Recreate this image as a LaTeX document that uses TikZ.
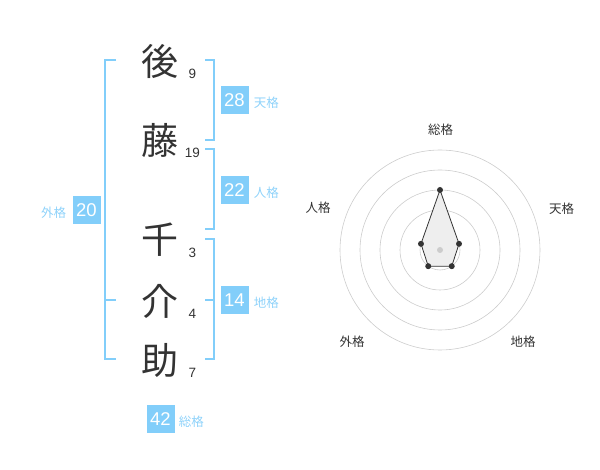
\documentclass[tikz,border=0pt]{standalone}
\usepackage{fontspec}
\setmainfont{Liberation Sans}
\newfontfamily\cjk{Noto Sans CJK JP}
\usetikzlibrary{positioning}
\definecolor{kakublue}{HTML}{82CEFA}
\definecolor{kakutext}{HTML}{8ED2FA}
\definecolor{inkgray}{HTML}{333333}
\definecolor{ringgray}{HTML}{CCCCCC}
\definecolor{polyfill}{HTML}{EEEEEE}
\begin{document}
\begin{tikzpicture}[x = 1pt, y = -1pt,
		kanji/.style = {text = inkgray, font = \cjk\fontsize{37}{37}\selectfont},
		kakusu/.style = {text = inkgray, font = \fontsize{13.5}{13.5}\selectfont},
		kakubox/.style = {fill = kakublue, text = white, minimum size = 28pt, inner sep = 0pt, font = \fontsize{18.5}{18.5}\selectfont},
		kakuname/.style = {text = kakutext, inner sep = 0pt, font = \cjk\fontsize{12.5}{12.5}\selectfont},
		bracket/.style = {draw = kakublue, line width = 2pt},
		ring/.style = {draw = ringgray, line width = 0.6pt},
		radarname/.style = {text = inkgray, font = \cjk\fontsize{12.5}{12.5}\selectfont}]
		\useasboundingbox (0, 0) rectangle (600, 470);
		% name and stroke counts
		\foreach \n/\y/\k/\s in {1/61/後/9, 2/140/藤/19, 3/240/千/3, 4/301/介/4, 5/360/助/7}
			{\node[kanji] (k\n) at (160, \y) {\k};
			\node[kakusu] (n\n) at (192.5, \y + 12.5) {\s};}
		% brackets
		\draw[bracket] (116, 60) -- (105, 60) -- (105, 359) -- (116, 359);
			\draw[bracket] (105, 300) -- (116, 300);
		\draw[bracket] (205, 60) -- (214, 60) -- (214, 140) -- (205, 140);
		\draw[bracket] (205, 149) -- (214, 149) -- (214, 229) -- (205, 229);
		\draw[bracket] (205, 239) -- (214, 239) -- (214, 359) -- (205, 359);
			\draw[bracket] (205, 300) -- (214, 300);
		% fortune boxes
		\node[kakubox] (ten) at (234.5, 100) {28};
			\node[kakuname, right = 5pt of ten, yshift = -3pt] (tenname) {天格};
		\node[kakubox] (jin) at (234.5, 190) {22};
			\node[kakuname, right = 5pt of jin, yshift = -3pt] (jinname) {人格};
		\node[kakubox] (chi) at (234.5, 300) {14};
			\node[kakuname, right = 5pt of chi, yshift = -3pt] (chiname) {地格};
		\node[kakubox] (gai) at (86.5, 210) {20};
			\node[kakuname, left = 6pt of gai, yshift = -3pt] (gainame) {外格};
		\node[kakubox] (sou) at (160.5, 419) {42};
			\node[kakuname, right = 4pt of sou, yshift = -3pt] (souname) {総格};
		% radar chart
		\coordinate (C) at (440, 250);
		\foreach \r in {20, 40, ..., 100}
			\draw[ring] (C) circle (\r pt);
		\foreach \a/\r/\p in {90/60/p1, 18/20/p2, -54/20/p3, -126/20/p4, 162/20/p5}
			\path (C) ++(\a:\r pt) coordinate (\p);
		\filldraw[fill = polyfill, draw = inkgray, line width = 0.8pt] (p1) -- (p2) -- (p3) -- (p4) -- (p5) -- cycle;
		\foreach \p in {p1, p2, p3, p4, p5}
			\fill[inkgray] (\p) circle (3pt);
		\fill[ringgray] (C) circle (3pt);
		\foreach \dx/\dy/\t/\m in {0.7/-120/総格/rsou, 121.7/-41.7/天格/rten, 83/92/地格/rchi, -88/92/外格/rgai, -122/-42/人格/rjin}
			\node[radarname] (\m) at ([shift = {(\dx, \dy)}]C) {\t};
	\end{tikzpicture}
\end{document}
